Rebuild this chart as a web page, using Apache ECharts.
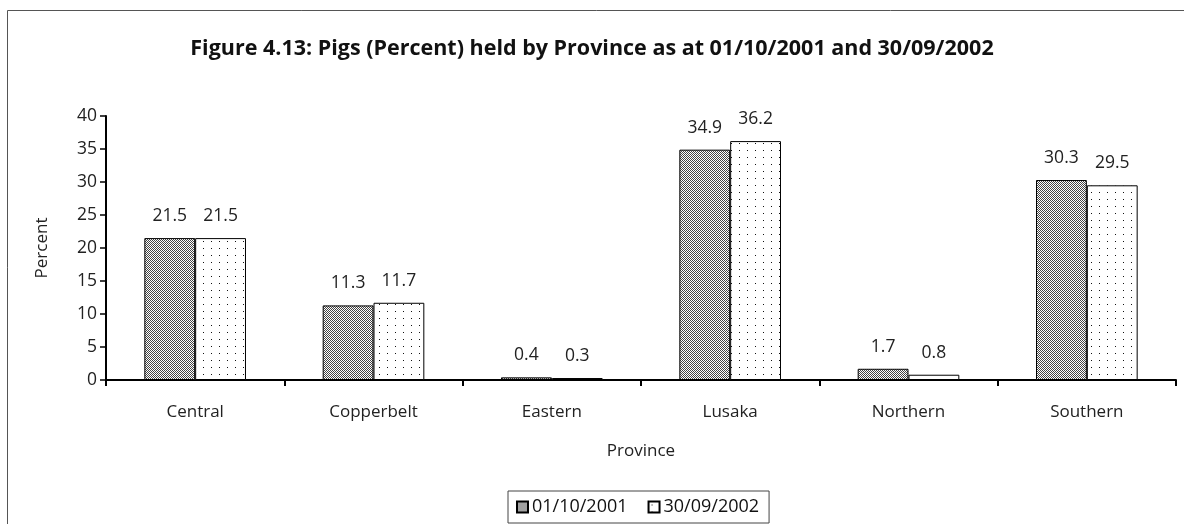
<!DOCTYPE html>
<html>
<head>
<meta charset="utf-8">
<script src="https://cdn.jsdelivr.net/npm/echarts@6/dist/echarts.min.js"></script>
<style>
html, body { margin: 0; padding: 0; background: #fff; }
#chart { width: 1184px; height: 524px; }
</style>
</head>
<body>
<div id="chart"></div>
<script>
// Provinces and share of pigs held (percent)
const provinces = ['Central', 'Copperbelt', 'Eastern', 'Lusaka', 'Northern', 'Southern'];
const pigs2001 = [21.5, 11.3, 0.4, 34.9, 1.7, 30.3];
const pigs2002 = [21.5, 11.7, 0.3, 36.2, 0.8, 29.5];
const seriesNames = ['01/10/2001', '30/09/2002'];
const yTicks = { min: 0, max: 40, interval: 5 };

// Fine diagonal hatching for the first series
function hatchPattern() {
  const c = document.createElement('canvas');
  c.width = 4; c.height = 4;
  const g = c.getContext('2d');
  g.fillStyle = '#fff';
  g.fillRect(0, 0, 4, 4);
  g.fillStyle = '#444';
  for (let i = 0; i < 4; i++) {
    g.fillRect(i, i, 1, 1);
    g.fillRect((i + 2) % 4, i, 1, 1);
  }
  return c;
}
// Sparse dots for the second series
function dotPattern() {
  const c = document.createElement('canvas');
  c.width = 8; c.height = 7;
  const g = c.getContext('2d');
  g.fillStyle = '#fff';
  g.fillRect(0, 0, 8, 7);
  g.fillStyle = '#111';
  g.fillRect(3, 3, 1, 1);
  return c;
}

const fill1 = { image: hatchPattern(), repeat: 'repeat' };
const fill2 = { image: dotPattern(), repeat: 'repeat' };

const FONT = '"Open Sans", Lato, sans-serif';
const chart = echarts.init(document.getElementById('chart'), null, { renderer: 'canvas' });

const labelStyle = {
  show: true,
  position: 'top',
  distance: 13,
  fontFamily: FONT,
  fontSize: 17.5,
  color: '#222',
  formatter: p => p.value.toFixed(1)
};

chart.setOption({
  animation: false,
  backgroundColor: '#fff',
  title: {
    text: 'Figure 4.13: Pigs (Percent) held by Province as at 01/10/2001 and 30/09/2002',
    left: 'center',
    top: 33,
    textStyle: { fontFamily: FONT, fontWeight: 'bold', fontSize: 21.5, color: '#111' }
  },
  graphic: [{
    type: 'rect',
    shape: { x: 7.5, y: 10.5, width: 1200, height: 600 },
    style: { fill: 'none', stroke: '#555', lineWidth: 1 },
    silent: true,
    z: -10
  }],
  legend: {
    bottom: 1,
    left: 508,
    data: seriesNames,
    icon: 'rect',
    itemWidth: 11,
    itemHeight: 11,
    itemGap: 20,
    padding: [7, 10, 7, 8],
    borderColor: '#444',
    borderWidth: 1,
    textStyle: { fontFamily: FONT, fontSize: 18, color: '#111', padding: [0, 0, 0, -1] }
  },
  grid: { left: 106, right: 8, top: 116, bottom: 144, containLabel: false },
  xAxis: {
    type: 'category',
    data: provinces,
    name: 'Province',
    nameLocation: 'middle',
    nameGap: 63,
    nameTextStyle: { fontFamily: FONT, fontSize: 17, color: '#222' },
    axisLine: { lineStyle: { color: '#000', width: 2 } },
    axisTick: { show: true, length: 6, lineStyle: { color: '#000', width: 2 }, alignWithLabel: false },
    axisLabel: { fontFamily: FONT, fontSize: 17, color: '#222', margin: 24 }
  },
  yAxis: {
    type: 'value',
    min: yTicks.min,
    max: yTicks.max,
    interval: yTicks.interval,
    name: 'Percent',
    nameLocation: 'middle',
    nameGap: 55,
    nameTextStyle: { fontFamily: FONT, fontSize: 17, color: '#222' },
    splitLine: { show: false },
    axisLine: { show: true, lineStyle: { color: '#000', width: 2 } },
    axisTick: { show: true, length: 6, lineStyle: { color: '#000', width: 1.5 } },
    axisLabel: { fontFamily: FONT, fontSize: 17.5, color: '#222', margin: 9 }
  },
  series: [
    {
      name: seriesNames[0],
      type: 'bar',
      data: pigs2001,
      barGap: '0%',
      barCategoryGap: '43%',
      itemStyle: { color: fill1, borderColor: '#000', borderWidth: 1 },
      label: labelStyle
    },
    {
      name: seriesNames[1],
      type: 'bar',
      data: pigs2002,
      itemStyle: { color: fill2, borderColor: '#000', borderWidth: 1 },
      label: labelStyle
    }
  ]
});
</script>
</body>
</html>
